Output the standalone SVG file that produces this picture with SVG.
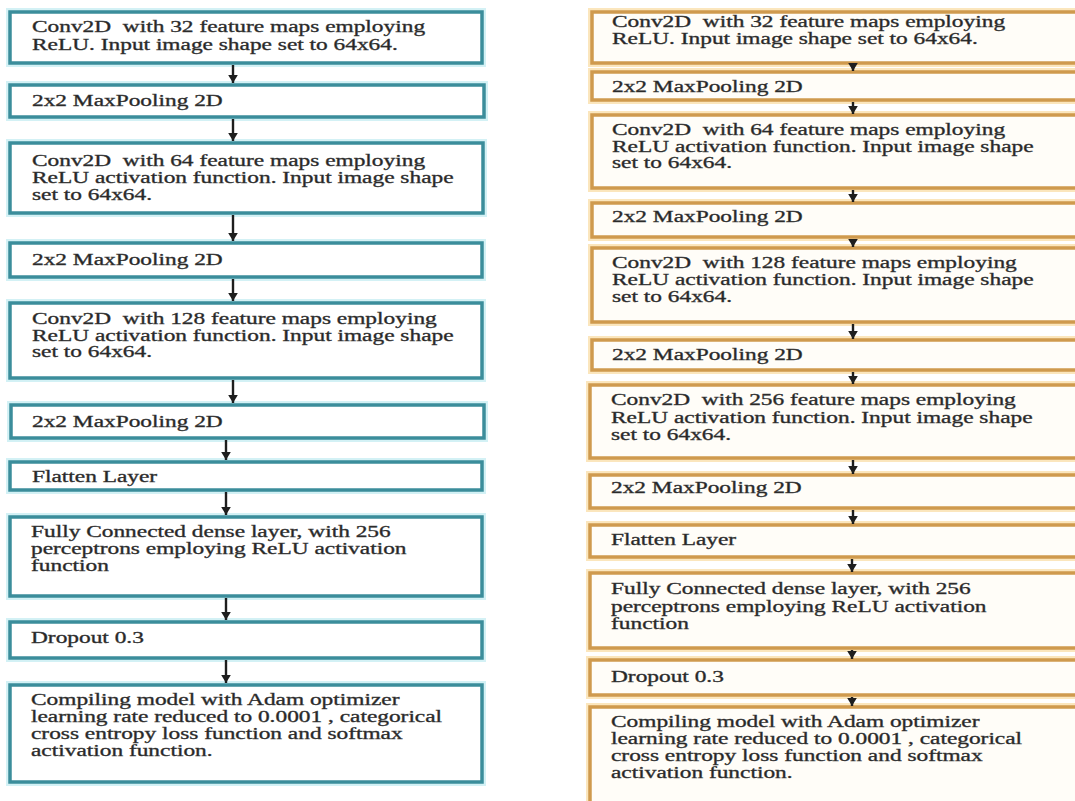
<svg xmlns="http://www.w3.org/2000/svg" width="1075" height="801" viewBox="0 0 1075 801">
<defs>
<style>
.bl{fill:#ffffff;stroke:#3b8d9b;stroke-width:3.5}
.gl{fill:none;stroke:#d3f1f5;stroke-width:8}
.bo{fill:#fffdf8;stroke:#cf9a4e;stroke-width:3.5}
.go{fill:none;stroke:#fbe6bd;stroke-width:8}
.t{font-family:"Liberation Serif","Times New Roman",serif;font-size:16px;fill:#262626;stroke:#3a3a3a;stroke-width:0.35;white-space:pre}
.c{stroke:#1e1e1e;stroke-width:2.4;fill:none}
</style>
<marker id="ah" viewBox="0 0 10 12" refX="10" refY="6" markerWidth="8" markerHeight="11" markerUnits="userSpaceOnUse" orient="auto">
<path d="M0,0 L10,6 L0,12 z" fill="#1e1e1e"/>
</marker>
</defs>
<rect width="1075" height="801" fill="#ffffff"/>

<!-- Left column -->
<g id="L1"><rect class="gl" x="10" y="12" width="472" height="51"/><rect class="bl" x="10" y="12" width="472" height="51"/>
<text class="t" xml:space="preserve" transform="translate(32 0) scale(1.46 1)"><tspan x="0" y="32">Conv2D  with 32 feature maps employing</tspan><tspan x="0" y="50">ReLU. Input image shape set to 64x64.</tspan></text></g>
<g id="L2"><rect class="gl" x="10" y="85" width="474" height="32"/><rect class="bl" x="10" y="85" width="474" height="32"/>
<text class="t" xml:space="preserve" transform="translate(32 0) scale(1.46 1)"><tspan x="0" y="106">2x2 MaxPooling 2D</tspan></text></g>
<g id="L3"><rect class="gl" x="10" y="143" width="473" height="70"/><rect class="bl" x="10" y="143" width="473" height="70"/>
<text class="t" xml:space="preserve" transform="translate(32 0) scale(1.46 1)"><tspan x="0" y="166">Conv2D  with 64 feature maps employing</tspan><tspan x="0" y="183">ReLU activation function. Input image shape</tspan><tspan x="0" y="200">set to 64x64.</tspan></text></g>
<g id="L4"><rect class="gl" x="10" y="243" width="472" height="34"/><rect class="bl" x="10" y="243" width="472" height="34"/>
<text class="t" xml:space="preserve" transform="translate(32 0) scale(1.46 1)"><tspan x="0" y="265">2x2 MaxPooling 2D</tspan></text></g>
<g id="L5"><rect class="gl" x="10" y="303" width="472" height="75"/><rect class="bl" x="10" y="303" width="472" height="75"/>
<text class="t" xml:space="preserve" transform="translate(32 0) scale(1.46 1)"><tspan x="0" y="324">Conv2D  with 128 feature maps employing</tspan><tspan x="0" y="341">ReLU activation function. Input image shape</tspan><tspan x="0" y="357">set to 64x64.</tspan></text></g>
<g id="L6"><rect class="gl" x="11" y="405" width="473" height="33"/><rect class="bl" x="11" y="405" width="473" height="33"/>
<text class="t" xml:space="preserve" transform="translate(32 0) scale(1.46 1)"><tspan x="0" y="427">2x2 MaxPooling 2D</tspan></text></g>
<g id="L7"><rect class="gl" x="10" y="462" width="472" height="28"/><rect class="bl" x="10" y="462" width="472" height="28"/>
<text class="t" xml:space="preserve" transform="translate(32 0) scale(1.46 1)"><tspan x="0" y="482">Flatten Layer</tspan></text></g>
<g id="L8"><rect class="gl" x="10" y="517" width="472" height="79"/><rect class="bl" x="10" y="517" width="472" height="79"/>
<text class="t" xml:space="preserve" transform="translate(31 0) scale(1.46 1)"><tspan x="0" y="537">Fully Connected dense layer, with 256</tspan><tspan x="0" y="554">perceptrons employing ReLU activation</tspan><tspan x="0" y="571">function</tspan></text></g>
<g id="L9"><rect class="gl" x="10" y="622" width="472" height="36"/><rect class="bl" x="10" y="622" width="472" height="36"/>
<text class="t" xml:space="preserve" transform="translate(31 0) scale(1.46 1)"><tspan x="0" y="643">Dropout 0.3</tspan></text></g>
<g id="L10"><rect class="gl" x="10" y="685" width="472" height="97"/><rect class="bl" x="10" y="685" width="472" height="97"/>
<text class="t" xml:space="preserve" transform="translate(31 0) scale(1.46 1)"><tspan x="0" y="705">Compiling model with Adam optimizer</tspan><tspan x="0" y="722">learning rate reduced to 0.0001 , categorical</tspan><tspan x="0" y="739">cross entropy loss function and softmax</tspan><tspan x="0" y="756">activation function.</tspan></text></g>

<!-- Right column -->
<g id="R1"><rect class="go" x="592" y="12" width="500" height="51"/><rect class="bo" x="592" y="12" width="500" height="51"/>
<text class="t" xml:space="preserve" transform="translate(612 0) scale(1.46 1)"><tspan x="0" y="27">Conv2D  with 32 feature maps employing</tspan><tspan x="0" y="44">ReLU. Input image shape set to 64x64.</tspan></text></g>
<g id="R2"><rect class="go" x="592" y="72" width="500" height="28"/><rect class="bo" x="592" y="72" width="500" height="28"/>
<text class="t" xml:space="preserve" transform="translate(612 0) scale(1.46 1)"><tspan x="0" y="92">2x2 MaxPooling 2D</tspan></text></g>
<g id="R3"><rect class="go" x="592" y="115" width="500" height="73"/><rect class="bo" x="592" y="115" width="500" height="73"/>
<text class="t" xml:space="preserve" transform="translate(612 0) scale(1.46 1)"><tspan x="0" y="135">Conv2D  with 64 feature maps employing</tspan><tspan x="0" y="152">ReLU activation function. Input image shape</tspan><tspan x="0" y="168">set to 64x64.</tspan></text></g>
<g id="R4"><rect class="go" x="592" y="203" width="500" height="34"/><rect class="bo" x="592" y="203" width="500" height="34"/>
<text class="t" xml:space="preserve" transform="translate(612 0) scale(1.46 1)"><tspan x="0" y="222">2x2 MaxPooling 2D</tspan></text></g>
<g id="R5"><rect class="go" x="592" y="248" width="500" height="74"/><rect class="bo" x="592" y="248" width="500" height="74"/>
<text class="t" xml:space="preserve" transform="translate(612 0) scale(1.46 1)"><tspan x="0" y="268">Conv2D  with 128 feature maps employing</tspan><tspan x="0" y="285">ReLU activation function. Input image shape</tspan><tspan x="0" y="302">set to 64x64.</tspan></text></g>
<g id="R6"><rect class="go" x="592" y="340" width="500" height="30"/><rect class="bo" x="592" y="340" width="500" height="30"/>
<text class="t" xml:space="preserve" transform="translate(612 0) scale(1.46 1)"><tspan x="0" y="360">2x2 MaxPooling 2D</tspan></text></g>
<g id="R7"><rect class="go" x="590" y="385" width="502" height="73"/><rect class="bo" x="590" y="385" width="502" height="73"/>
<text class="t" xml:space="preserve" transform="translate(611 0) scale(1.46 1)"><tspan x="0" y="405">Conv2D  with 256 feature maps employing</tspan><tspan x="0" y="423">ReLU activation function. Input image shape</tspan><tspan x="0" y="440">set to 64x64.</tspan></text></g>
<g id="R8"><rect class="go" x="590" y="475" width="502" height="33"/><rect class="bo" x="590" y="475" width="502" height="33"/>
<text class="t" xml:space="preserve" transform="translate(611 0) scale(1.46 1)"><tspan x="0" y="493">2x2 MaxPooling 2D</tspan></text></g>
<g id="R9"><rect class="go" x="590" y="525" width="502" height="32"/><rect class="bo" x="590" y="525" width="502" height="32"/>
<text class="t" xml:space="preserve" transform="translate(611 0) scale(1.46 1)"><tspan x="0" y="545">Flatten Layer</tspan></text></g>
<g id="R10"><rect class="go" x="590" y="573" width="502" height="75"/><rect class="bo" x="590" y="573" width="502" height="75"/>
<text class="t" xml:space="preserve" transform="translate(611 0) scale(1.46 1)"><tspan x="0" y="594">Fully Connected dense layer, with 256</tspan><tspan x="0" y="612">perceptrons employing ReLU activation</tspan><tspan x="0" y="629">function</tspan></text></g>
<g id="R11"><rect class="go" x="590" y="660" width="502" height="35"/><rect class="bo" x="590" y="660" width="502" height="35"/>
<text class="t" xml:space="preserve" transform="translate(611 0) scale(1.46 1)"><tspan x="0" y="682">Dropout 0.3</tspan></text></g>
<g id="R12"><rect class="go" x="590" y="707" width="502" height="110"/><rect class="bo" x="590" y="707" width="502" height="110"/>
<text class="t" xml:space="preserve" transform="translate(611 0) scale(1.46 1)"><tspan x="0" y="727">Compiling model with Adam optimizer</tspan><tspan x="0" y="744">learning rate reduced to 0.0001 , categorical</tspan><tspan x="0" y="761">cross entropy loss function and softmax</tspan><tspan x="0" y="778">activation function.</tspan></text></g>

<!-- Connectors -->
<g id="connectors">
<line class="c" x1="233" y1="65" x2="233" y2="83" marker-end="url(#ah)"/>
<line class="c" x1="233" y1="119" x2="233" y2="141" marker-end="url(#ah)"/>
<line class="c" x1="233" y1="215" x2="233" y2="241" marker-end="url(#ah)"/>
<line class="c" x1="233" y1="279" x2="233" y2="301" marker-end="url(#ah)"/>
<line class="c" x1="233" y1="380" x2="233" y2="403" marker-end="url(#ah)"/>
<line class="c" x1="226" y1="440" x2="226" y2="460" marker-end="url(#ah)"/>
<line class="c" x1="226" y1="492" x2="226" y2="515" marker-end="url(#ah)"/>
<line class="c" x1="226" y1="598" x2="226" y2="620" marker-end="url(#ah)"/>
<line class="c" x1="226" y1="660" x2="226" y2="683" marker-end="url(#ah)"/>
<line class="c" x1="853" y1="64" x2="853" y2="71" marker-end="url(#ah)"/>
<line class="c" x1="853" y1="102" x2="853" y2="114" marker-end="url(#ah)"/>
<line class="c" x1="853" y1="190" x2="853" y2="202" marker-end="url(#ah)"/>
<line class="c" x1="853" y1="239" x2="853" y2="247" marker-end="url(#ah)"/>
<line class="c" x1="853" y1="324" x2="853" y2="339" marker-end="url(#ah)"/>
<line class="c" x1="853" y1="372" x2="853" y2="384" marker-end="url(#ah)"/>
<line class="c" x1="853" y1="460" x2="853" y2="474" marker-end="url(#ah)"/>
<line class="c" x1="853" y1="510" x2="853" y2="524" marker-end="url(#ah)"/>
<line class="c" x1="852" y1="559" x2="852" y2="572" marker-end="url(#ah)"/>
<line class="c" x1="852" y1="650" x2="852" y2="659" marker-end="url(#ah)"/>
<line class="c" x1="852" y1="697" x2="852" y2="706" marker-end="url(#ah)"/>
</g>
</svg>
